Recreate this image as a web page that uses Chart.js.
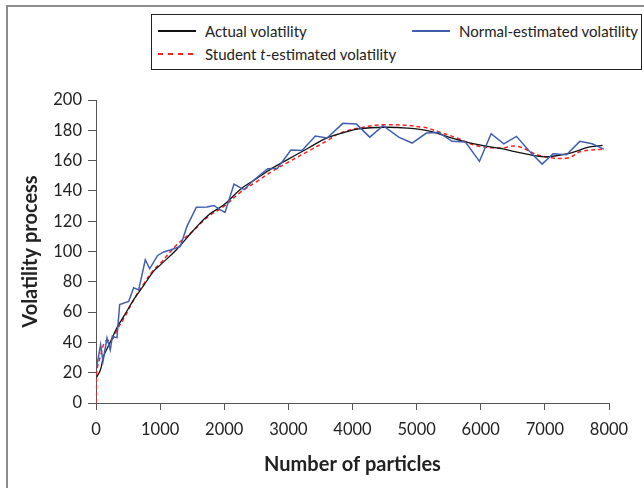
<!DOCTYPE html>
<html>
<head>
<meta charset="utf-8">
<script src="https://cdn.jsdelivr.net/npm/chart.js@4/dist/chart.umd.min.js"></script>
<style>
  body { margin: 0; background: #fff; }
  #wrap { position: relative; width: 644px; height: 488px; overflow: hidden; }
  #frame { position: absolute; left: 6px; top: 5px; width: 700px; height: 600px;
           border-left: 2px solid #8c8c8c; border-top: 2px solid #8c8c8c; }
  #legend { position: absolute; left: 151px; top: 14px; width: 489px; height: 54px;
            border: 1px solid #222; background: #fff;
            font-family: Lato, sans-serif; font-size: 15px; color: #222; }
  .item { position: absolute; height: 20px; line-height: 20px; white-space: nowrap; }
  .sample { position: absolute; left: 0; top: 9px; width: 38px; height: 2px; }
  .item span { position: absolute; left: 47px; top: 0; }
  canvas { position: absolute; left: 0; top: 0; }
</style>
</head>
<body>
<div id="wrap">
  <div id="frame"></div>
  <canvas id="chart" width="644" height="488"></canvas>
  <div id="legend">
    <div class="item" style="left:6px; top:6px;">
      <div class="sample" style="background:#111;"></div><span>Actual volatility</span>
    </div>
    <div class="item" style="left:260px; top:6px;">
      <div class="sample" style="background:#3f5fae;"></div><span>Normal-estimated volatility</span>
    </div>
    <div class="item" style="left:6px; top:29px;">
      <div class="sample" style="background:repeating-linear-gradient(90deg, #ff2020 0 5px, transparent 5px 10px);"></div><span>Student <i>t</i>-estimated volatility</span>
    </div>
  </div>
</div>
<script>
// actual volatility (black)
const actualX = [10, 70, 120, 220, 330, 430, 600, 750, 900, 1000, 1250, 1500, 1750, 2000, 2250, 2500, 2750, 3000, 3300, 3600, 3900, 4100, 4500, 4850, 5200, 5500, 5900, 6300, 6700, 7000, 7350, 7700, 7900];
const actualY = [17, 22, 31, 40, 50, 57, 69, 78, 87, 91, 101, 113, 124, 131, 141, 148, 155, 161, 168, 175, 179, 181, 182, 181.5, 179.5, 175.5, 171, 168, 164.5, 162.5, 164.5, 169, 170];

// normal-estimated volatility (blue)
const normalX = [10, 72, 109, 171, 223, 255, 327, 369, 509, 587, 665, 769, 837, 961, 1055, 1159, 1315, 1419, 1565, 1731, 1840, 1913, 2012, 2152, 2308, 2459, 2677, 2830, 3040, 3213, 3421, 3603, 3850, 4061, 4269, 4477, 4721, 4929, 5153, 5345, 5553, 5761, 5980, 6162, 6359, 6557, 6749, 6957, 7129, 7337, 7545, 7737, 7919];
const normalY = [24, 38.5, 27.5, 42.9, 35, 44, 43, 65, 67, 76, 74.6, 94.6, 88.6, 97.4, 99.7, 101, 103.4, 116.6, 129.2, 129.4, 130.4, 128.2, 125.8, 144.5, 140.8, 147, 154.6, 155, 167, 166.6, 176.2, 174.9, 184.6, 184.1, 175.5, 183, 175.5, 171.6, 178.2, 178.6, 172.7, 172.3, 159.5, 177.7, 171.1, 176, 166.7, 157.7, 164.5, 163.9, 172.7, 171.1, 167.6];

// student t-estimated volatility (red dashed)
const studentX = [0, 10, 70, 145, 250, 330, 450, 600, 750, 900, 1000, 1250, 1500, 1750, 2000, 2250, 2500, 2750, 3000, 3300, 3600, 3800, 4100, 4500, 5100, 5370, 5630, 5940, 6300, 6570, 6930, 7350, 7560, 7920];
const studentY = [0, 20, 31, 40.7, 41.8, 48.4, 57, 69, 79, 88, 92, 104, 113, 123, 130, 139, 146, 153, 159, 166, 173, 178, 181.5, 183.7, 182, 178.6, 174.9, 169.8, 168.3, 169.4, 163.2, 161.7, 166, 167.6];

const pts = (xs, ys) => xs.map((x, i) => ({ x: x, y: ys[i] }));

const tickFont = { family: 'Lato, sans-serif', size: 16.5 };
const titleFont = { family: 'Lato, sans-serif', size: 20, weight: 'bold' };

new Chart(document.getElementById('chart'), {
    type: 'line',
    data: {
        datasets: [{
            label: 'Normal-estimated volatility',
            data: pts(normalX, normalY),
            borderColor: '#3f5fae',
            borderWidth: 1.5,
            tension: 0
        }, {
            label: 'Actual volatility',
            data: pts(actualX, actualY),
            borderColor: '#111111',
            borderWidth: 1.3,
            tension: 0.4
        }, {
            label: 'Student t-estimated volatility',
            data: pts(studentX, studentY),
            borderColor: '#ff2020',
            borderWidth: 1.5,
            borderDash: [4, 3],
            tension: 0.4
        }]
    },
    options: {
        responsive: false,
        animation: false,
        layout: { padding: { top: 100, right: 35, left: 0, bottom: 0 } },
        elements: { point: { radius: 0 } },
        plugins: {
            legend: { display: false },
            tooltip: { enabled: false }
        },
        scales: {
            x: {
                type: 'linear',
                min: 0,
                max: 8000,
                ticks: { stepSize: 1000, color: '#222', font: tickFont, padding: 10, maxRotation: 0,
                         callback: v => String(v) },
                grid: { drawOnChartArea: false, tickLength: 7, color: '#555' },
                border: { color: '#555' },
                title: { display: true, text: 'Number of particles', color: '#222', font: titleFont, padding: { bottom: 11 } },
                afterFit: s => { s.height = 85; }
            },
            y: {
                min: 0,
                max: 200,
                ticks: { stepSize: 20, color: '#222', font: tickFont, padding: 6 },
                grid: { drawOnChartArea: false, tickLength: 8, color: '#555' },
                border: { color: '#555' },
                title: { display: true, text: 'Volatility process', color: '#222', font: titleFont, padding: { top: 19 } },
                afterFit: s => { s.width = 96; }
            }
        }
    }
});
</script>
</body>
</html>
